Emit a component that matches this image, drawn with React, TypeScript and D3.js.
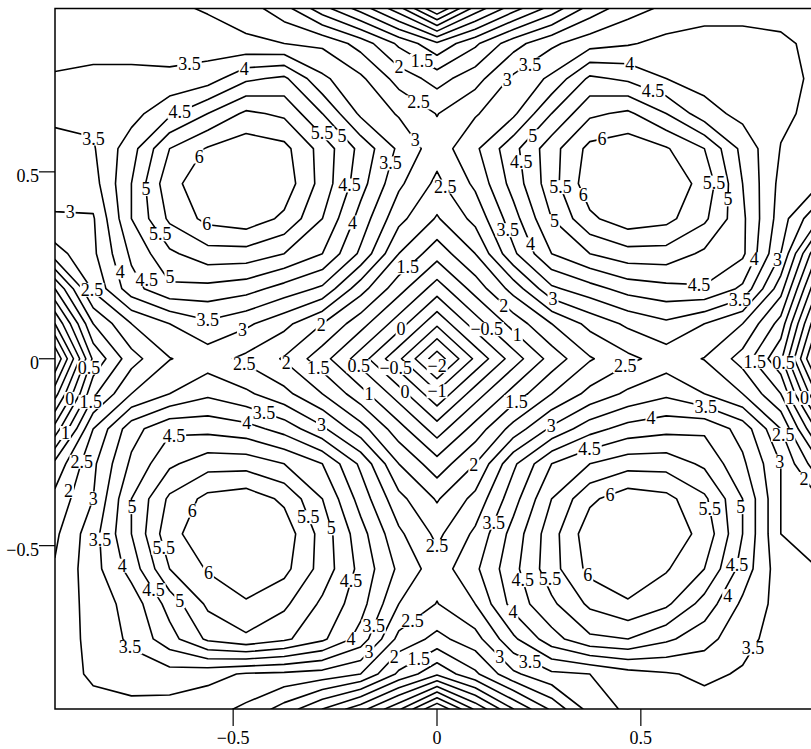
import React, { useMemo } from "react";
import * as d3 from "d3";

// ---- data ----
const gridSize = 21;
const xDomain = [-0.937, 0.937];
const yDomain = [-0.937, 0.937];

// field values, rows from top (y = +0.937) to bottom (y = -0.937), columns left to right
const zRows: number[][] = [
  [3.2, 3.2, 3.2, 3.1, 2.95, 2.75, 2.2, 1.2, 0.3, -0.8, -2.5, -0.8, 0.3, 1.2, 2.2, 2.8, 3.1, 3.3, 3.3, 3.3, 3.2],
  [3.3, 3.35, 3.35, 3.3, 3.25, 3.1, 3.0, 2.9, 2.3, 1.4, 0.6, 1.4, 2.3, 2.9, 3.3, 3.45, 3.65, 3.7, 3.7, 3.6, 3.35],
  [3.55, 3.6, 3.6, 3.6, 3.75, 4.4, 4.6, 3.6, 3.1, 2.3, 1.8, 2.3, 3.1, 3.6, 4.6, 4.4, 4.0, 3.8, 3.7, 3.65, 3.4],
  [3.6, 3.6, 3.8, 4.4, 5.0, 5.6, 5.4, 4.5, 3.4, 2.95, 2.48, 2.95, 3.4, 4.5, 5.4, 5.6, 5.0, 4.2, 3.85, 3.6, 3.35],
  [3.35, 3.45, 4.3, 5.5, 6.05, 6.3, 6.15, 5.3, 4.35, 3.4, 2.72, 3.4, 4.35, 5.3, 6.15, 6.3, 6.05, 5.5, 4.35, 3.48, 3.2],
  [3.2, 3.3, 4.5, 5.85, 6.3, 6.4, 6.3, 5.3, 4.2, 3.1, 2.38, 3.1, 4.2, 5.3, 6.3, 6.4, 6.3, 5.85, 4.5, 3.35, 3.05],
  [2.95, 2.95, 4.5, 5.6, 6.15, 6.3, 5.9, 5.0, 3.8, 2.65, 1.95, 2.65, 3.8, 5.0, 5.9, 6.3, 6.15, 5.6, 4.6, 3.25, 2.0],
  [2.3, 2.9, 4.1, 4.9, 5.3, 5.3, 5.0, 4.5, 3.4, 2.0, 1.2, 2.0, 3.4, 4.5, 5.0, 5.3, 5.3, 4.9, 4.6, 3.0, 0.4],
  [0.5, 2.6, 3.8, 4.4, 4.35, 4.2, 3.8, 3.4, 2.2, 1.2, 0.25, 1.2, 2.2, 3.4, 3.8, 4.2, 4.35, 4.45, 3.9, 2.2, -0.6],
  [-1.0, 1.5, 2.5, 3.0, 3.4, 3.1, 2.65, 2.0, 1.2, 0.25, -0.9, 0.25, 1.2, 2.0, 2.65, 3.1, 3.4, 3.0, 2.5, 1.3, -1.6],
  [-2.5, 0.6, 1.8, 2.48, 2.72, 2.38, 1.95, 1.2, 0.25, -0.9, -2.3, -0.9, 0.25, 1.2, 1.95, 2.38, 2.72, 2.48, 1.8, 0.6, -2.5],
  [-1.2, 1.4, 2.5, 3.0, 3.4, 3.1, 2.65, 2.0, 1.2, 0.25, -0.9, 0.25, 1.2, 2.0, 2.65, 3.1, 3.4, 3.0, 2.5, 1.5, -1.2],
  [0.2, 2.5, 3.8, 4.4, 4.35, 4.2, 3.8, 3.1, 2.2, 1.2, 0.25, 1.2, 2.2, 3.1, 3.8, 4.2, 4.35, 4.4, 3.8, 2.5, 0.3],
  [1.65, 2.9, 4.1, 4.9, 5.3, 5.3, 5.0, 4.5, 3.4, 2.0, 1.2, 2.0, 3.4, 4.5, 5.0, 5.3, 5.3, 4.9, 4.1, 3.0, 1.6],
  [2.15, 3.0, 4.5, 5.6, 6.15, 6.3, 5.9, 5.0, 3.8, 2.65, 1.95, 2.65, 3.8, 5.0, 5.9, 6.3, 6.15, 5.6, 4.5, 3.0, 2.5],
  [2.4, 3.3, 4.5, 5.85, 6.3, 6.4, 6.3, 5.3, 4.2, 3.1, 2.38, 3.1, 4.2, 5.3, 6.3, 6.4, 6.3, 5.85, 4.5, 3.0, 2.8],
  [2.55, 3.3, 4.2, 5.5, 6.05, 6.3, 6.15, 5.3, 4.35, 3.4, 2.72, 3.4, 4.35, 5.3, 6.15, 6.3, 6.05, 5.5, 4.3, 3.2, 3.0],
  [2.65, 3.2, 3.7, 4.7, 5.6, 5.95, 5.6, 4.9, 4.2, 3.0, 2.48, 3.0, 4.2, 4.9, 5.6, 5.95, 5.6, 4.8, 3.9, 3.3, 3.1],
  [2.7, 3.15, 3.6, 4.3, 5.1, 5.4, 5.1, 4.6, 3.8, 2.35, 1.85, 2.3, 3.4, 4.3, 4.9, 5.0, 4.6, 4.2, 3.65, 3.3, 3.1],
  [2.7, 3.1, 3.25, 3.3, 3.15, 2.95, 2.9, 2.8, 2.5, 1.4, 0.6, 1.4, 2.4, 2.9, 3.0, 3.3, 3.45, 3.6, 3.45, 3.2, 3.05],
  [2.65, 2.8, 2.85, 2.8, 2.7, 2.4, 1.8, 1.0, 0.2, -0.9, -2.5, -0.9, 0.5, 1.6, 2.7, 3.1, 3.2, 3.3, 3.35, 3.2, 3.0],
];

const levels = [-2, -1.5, -1, -0.5, 0, 0.5, 1, 1.5, 2, 2.5, 3, 3.5, 4, 4.5, 5, 5.5, 6];
const xTicks = [-0.5, 0, 0.5];
const yTicks = [0.5, 0, -0.5];

// contour labels: [level, x, y] (data coordinates where the label sits)
const contourLabels: [number, number, number][] = [
  [3.5, -0.605, 0.774], [4, -0.47, 0.769], [4.5, -0.623, 0.64], [3.5, -0.838, 0.59],
  [6, -0.583, 0.541], [5, -0.723, 0.453], [3, -0.9, 0.389], [5.5, -0.679, 0.333],
  [6, -0.578, 0.336], [4, -0.777, 0.231], [4.5, -0.712, 0.212], [5, -0.655, 0.218],
  [2.5, -0.853, 0.18], [3.5, -0.561, 0.092], [3, -0.475, 0.071], [5.5, -0.282, 0.603],
  [5, -0.233, 0.595], [4.5, -0.194, 0.456], [3.5, -0.115, 0.523], [3, -0.066, 0.574],
  [4, -0.184, 0.354], [2, -0.096, 0.774], [1.5, -0.042, 0.787], [2.5, -0.047, 0.683],
  [2.5, 0.01, 0.453],
  [1.5, -0.066, 0.237], [2, -0.275, 0.079], [0, -0.088, 0.079], [-0.5, 0.122, 0.079],
  [1, 0.191, 0.057], [2, 0.164, 0.14], [2.5, -0.48, -0.031], [2, -0.38, -0.025],
  [1.5, -0.297, -0.033], [0.5, -0.199, -0.028], [-0.5, -0.108, -0.033], [-2, 0.005, -0.025],
  [1, -0.174, -0.103], [0, -0.093, -0.106], [-1, 0.005, -0.103], [1.5, 0.199, -0.122],
  [3, -0.282, -0.175], [2, 0.098, -0.293], [2.5, 0.466, -0.028],
  [1.5, 0.775, -0.012], [0.5, 0.846, -0.012], [1, 0.855, -0.111], [0, 0.897, -0.108],
  [2.5, 0.841, -0.207], [3, 0.843, -0.274], [2, 0.9, -0.322], [3.5, 0.654, -0.143],
  [4, 0.527, -0.173], [3, 0.279, -0.178], [4.5, 0.375, -0.245], [4.5, 0.642, 0.183],
  [3.5, 0.748, 0.143], [3, 0.279, 0.143], [4, 0.784, 0.263], [3, 0.846, 0.258],
  [1.5, -0.843, -0.119], [0, -0.9, -0.108], [0.5, -0.85, -0.025], [1, -0.907, -0.202],
  [2.5, -0.86, -0.28], [2, -0.904, -0.354], [4.5, -0.645, -0.215], [4, -0.468, -0.175],
  [3.5, -0.429, -0.159], [3, -0.843, -0.374], [5, -0.748, -0.397], [3.5, -0.814, -0.483],
  [5.5, -0.674, -0.507], [6, -0.62, -0.397], [6, -0.571, -0.59], [4, -0.748, -0.548],
  [4.5, -0.691, -0.616], [5, -0.615, -0.632], [3.5, -0.755, -0.774], [5.5, -0.316, -0.424],
  [5, -0.248, -0.45], [2.5, 0.002, -0.525], [4.5, -0.191, -0.6], [3.5, -0.147, -0.72],
  [2.5, -0.049, -0.718], [4, -0.201, -0.766], [3, -0.157, -0.795], [2, -0.096, -0.806],
  [1.5, -0.039, -0.814],
  [3.5, 0.142, -0.44], [4.5, 0.186, -0.6], [4, 0.169, -0.691], [3, 0.154, -0.798],
  [3.5, 0.228, -0.812], [5.5, 0.277, -0.59], [6, 0.35, -0.595], [6, 0.434, -0.394],
  [5.5, 0.694, -0.397], [5, 0.745, -0.397], [4.5, 0.713, -0.547], [4, 0.713, -0.635],
  [3.5, 0.762, -0.766],
  [3, 0.152, 0.764], [3.5, 0.228, 0.787], [4, 0.468, 0.774], [4.5, 0.525, 0.702],
  [6, 0.4, 0.613], [5, 0.235, 0.595], [4.5, 0.186, 0.523], [5.5, 0.277, 0.448],
  [6, 0.363, 0.44], [5.5, 0.672, 0.469], [5, 0.725, 0.426], [5, 0.272, 0.349],
  [3.5, 0.159, 0.338], [4, 0.218, 0.301],
];

const fmt = (v: number) => (v < 0 ? "\u2212" + String(-v) : String(v));

// rough advance widths (em) of a Times-like face
const textWidth = (s: string, size: number) => {
  let w = 0;
  for (const ch of s) w += ch === "." ? 0.25 : ch === "\u2212" ? 0.56 : 0.5;
  return w * size;
};

export default function App() {
  const W = 811;
  const H = 749;
  const frame = { left: 55, right: 819, top: 8.5, bottom: 709 };
  const font = "'Liberation Serif', 'Times New Roman', serif";
  const fs = 18;

  const x = d3.scaleLinear().domain(xDomain).range([frame.left, frame.right]);
  const y = d3.scaleLinear().domain(yDomain).range([frame.bottom, frame.top]);

  const { paths, labels } = useMemo(() => {
    const step = (xDomain[1] - xDomain[0]) / (gridSize - 1);
    const values = zRows.flat();
    const gen = d3.contours().size([gridSize, gridSize]).thresholds(levels);
    const polys = gen(values);
    const toPx = (p: number[]) => [
      x(xDomain[0] + (p[0] - 0.5) * step),
      y(yDomain[1] - (p[1] - 0.5) * step),
    ];
    const segsByLevel = new Map<number, number[][][]>();
    const paths = polys.map((c) => {
      let d = "";
      const segs: number[][][] = [];
      c.coordinates.forEach((poly) => {
        poly.forEach((ring) => {
          const pts = ring.map(toPx);
          d += "M" + pts.map((q) => q[0].toFixed(2) + "," + q[1].toFixed(2)).join("L") + "Z";
          for (let k = 1; k < pts.length; k++) segs.push([pts[k - 1], pts[k]]);
        });
      });
      segsByLevel.set(c.value, segs);
      return { value: c.value, d };
    });

    const inside = (p: number[]) =>
      p[0] > frame.left + 2 && p[0] < frame.right - 2 && p[1] > frame.top + 2 && p[1] < frame.bottom - 2;

    const labels = contourLabels.map(([lv, lx, ly]) => {
      const ax = x(lx);
      const ay = y(ly);
      const segs = segsByLevel.get(lv) || [];
      let best: number[] | null = null;
      let bestD = 12;
      segs.forEach(([a, b]) => {
        const dx = b[0] - a[0];
        const dy = b[1] - a[1];
        const L = dx * dx + dy * dy;
        let t = L > 0 ? ((ax - a[0]) * dx + (ay - a[1]) * dy) / L : 0;
        t = Math.max(0, Math.min(1, t));
        const px = a[0] + t * dx;
        const py = a[1] + t * dy;
        const dist = Math.hypot(px - ax, py - ay);
        if (dist < bestD && inside([px, py])) {
          bestD = dist;
          best = [px, py];
        }
      });
      const pos = best || [ax, ay];
      const text = fmt(lv);
      return { text, px: pos[0], py: pos[1], w: textWidth(text, fs) };
    });
    return { paths, labels };
  }, []);

  return (
    <svg
      width={W}
      height={H}
      style={{ position: "absolute", left: 0, top: 0, display: "block", background: "#fff" }}
      fontFamily={font}
    >
      <defs>
        <clipPath id="plotClip">
          <rect x={frame.left} y={frame.top} width={frame.right - frame.left} height={frame.bottom - frame.top} />
        </clipPath>
      </defs>
      <rect x={0} y={0} width={W} height={H} fill="#fff" />
      <g clipPath="url(#plotClip)">
        {paths.map((p, i) => (
          <path key={i} d={p.d} fill="none" stroke="#000" strokeWidth={1.6} strokeLinejoin="round" />
        ))}
        {labels.map((l, i) => (
          <rect key={"b" + i} x={l.px - l.w / 2 - 1} y={l.py - 7} width={l.w + 2} height={14} fill="#fff" />
        ))}
        {labels.map((l, i) => (
          <text key={i} x={l.px} y={l.py + 6} fontSize={fs} textAnchor="middle" fill="#000">
            {l.text}
          </text>
        ))}
      </g>
      <rect
        x={frame.left}
        y={frame.top}
        width={frame.right - frame.left}
        height={frame.bottom - frame.top}
        fill="none"
        stroke="#000"
        strokeWidth={1.5}
      />
      {xTicks.map((t) => (
        <g key={"x" + t}>
          <line x1={x(t)} x2={x(t)} y1={frame.bottom} y2={frame.bottom + 17} stroke="#000" strokeWidth={1.2} />
          <text x={x(t)} y={frame.bottom + 35} fontSize={fs} textAnchor="middle" fill="#000">
            {fmt(t)}
          </text>
        </g>
      ))}
      {yTicks.map((t) => (
        <g key={"y" + t}>
          <line x1={frame.left - 16} x2={frame.left} y1={y(t)} y2={y(t)} stroke="#000" strokeWidth={1.2} />
          <text x={frame.left - 16} y={y(t) + 10} fontSize={fs} textAnchor="end" fill="#000">
            {fmt(t)}
          </text>
        </g>
      ))}
    </svg>
  );
}
